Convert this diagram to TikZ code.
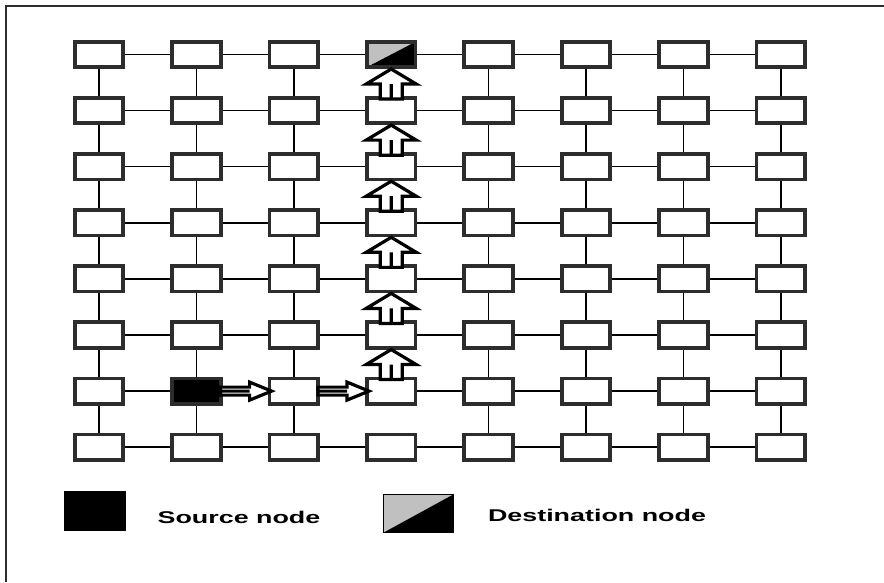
\documentclass[tikz,border=0pt]{standalone}
\usepackage{fontspec}
\setmainfont{Liberation Sans}
\usetikzlibrary{calc}
\definecolor{cellgrey}{RGB}{45,45,45}
\definecolor{destgrey}{RGB}{192,192,192}
\tikzset{
  cell/.style={rectangle,draw=cellgrey,line width=2.8pt,fill=white,
    minimum width=36.5pt,minimum height=19pt,inner sep=0pt},
  srccell/.style={cell,fill=black},
  dstcell/.style={cell,fill=destgrey,path picture={
      \fill[black] (path picture bounding box.south west) --
        (path picture bounding box.north east) |- cycle;}},
  link/.style={draw=black,line width=1.1pt},
  upflow/.style={draw=black,line width=2.4pt,fill=white,line join=miter,
    to path={($(\tikztostart)+(-11,3)$) -- ($(\tikztotarget)+(-11,15)$)
      -- ($(\tikztotarget)+(-25,15)$) -- (\tikztotarget)
      -- ($(\tikztotarget)+(25,15)$) -- ($(\tikztotarget)+(11,15)$)
      -- ($(\tikztostart)+(11,3)$) -- cycle
      ($(\tikztostart)+(0,3)$) -- ($(\tikztotarget)+(0,15)$)}},
  rightflow/.style={draw=black,line width=2.4pt,fill=white,line join=miter,
    to path={($(\tikztostart)+(-2,-4)$) -- ($(\tikztotarget)+(-18,-4)$)
      -- ($(\tikztotarget)+(-18,-9)$) -- ($(\tikztotarget)+(4,0)$)
      -- ($(\tikztotarget)+(-18,9)$) -- ($(\tikztotarget)+(-18,4)$)
      -- ($(\tikztostart)+(-2,4)$) -- cycle
      ($(\tikztostart)+(-2,0)$) -- ($(\tikztotarget)+(-18,0)$)}},
  legendtext/.style={font=\fontsize{12.75pt}{14pt}\selectfont\bfseries}
}

\begin{document}
\begin{tikzpicture}[x=0.75pt,y=-0.75pt]
  \useasboundingbox (0,0) rectangle (884,582);
  \draw[line width=1.5pt,draw=cellgrey] (6,582) -- (6,6) -- (884,6);
  % mesh of routers
  \foreach \i in {1,...,8}
    \foreach \j in {1,...,8}{
      \def\kind{cell}
      \ifnum\i\j=27 \def\kind{srccell}\fi
      \ifnum\i\j=41 \def\kind{dstcell}\fi
      \node[\kind] (n-\i-\j) at ({99+97.4*(\i-1)},{54.5+56.1*(\j-1)}) {};
    }
  \foreach \j in {1,...,8}
    \foreach \i [count=\k from 2] in {1,...,7}{
      \ifnum\j\i=72 \else\ifnum\j\i=73 \else
        \draw[link] (n-\i-\j.east) -- (n-\k-\j.west);
      \fi\fi
    }
  \foreach \i in {1,...,8}
    \foreach \j [count=\k from 2] in {1,...,7}{
      \ifnum\i=4 \else
        \draw[link] (n-\i-\j.south) -- (n-\i-\k.north);
      \fi
    }
  % route from source to destination
  \draw[rightflow] (n-2-7.east) to (n-3-7.west);
  \draw[rightflow] (n-3-7.east) to (n-4-7.west);
  \foreach \j [count=\k from 2] in {1,...,6}
    \draw[upflow] (n-4-\k.north) to (n-4-\j.south);
  % legend
  \node[srccell,draw=none,minimum width=46.5pt,minimum height=30pt]
    (srckey) at (95,511) {};
  \node[legendtext] (srclabel) at (239,517) {\scalebox{1.58}[1]{Source node}};
  \node[dstcell,line width=0.8pt,draw=black,minimum width=53pt,minimum height=29pt]
    (dstkey) at (418.5,513.5) {};
  \node[legendtext] (dstlabel) at (597,515) {\scalebox{1.58}[1]{Destination node}};
\end{tikzpicture}
\end{document}
